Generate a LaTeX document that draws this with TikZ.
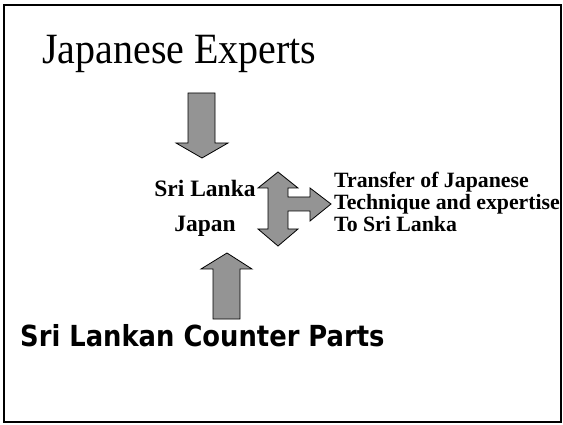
\documentclass[tikz,border=0pt]{standalone}
\usepackage{fontspec}
\setmainfont{Liberation Serif}
\newfontfamily\tahomalike[FakeStretch=0.89]{DejaVu Sans}
\usetikzlibrary{positioning}

\begin{document}
\begin{tikzpicture}[x=1pt,y=-1pt,
  blockarrow/.style={draw=black,line width=0.8pt,fill=black!42,line join=miter},
  place/.style={font=\bfseries\fontsize{23.5}{26}\selectfont,inner sep=0pt}]
  \useasboundingbox (0,0) rectangle (563,425);
  \draw[line width=1.2pt] (4,5) rectangle (561,422);
  \node[anchor=base west,inner sep=0pt,yscale=1.08,font=\fontsize{40}{44}\selectfont] (experts) at (42,64) {Japanese Experts};
  % experts coming down
  \filldraw[blockarrow] (188,93) -- (215,93) -- (215,143) -- (228,143) -- (202,158)
    -- (176,143) -- (188,143) -- cycle;
  \node[place] (srilanka) at (205,188) {Sri Lanka};
  \node[place] (japan) at (205,226) {Japan};
  % both ways, plus the branch to the right
  \filldraw[blockarrow] (278,172) -- (298,188) -- (288,188) -- (288,197) -- (310,197)
    -- (310,188) -- (331,204) -- (310,221) -- (310,211) -- (288,211) -- (288,229)
    -- (298,229) -- (278,246) -- (258,229) -- (268,229) -- (268,188) -- (258,188) -- cycle;
  \node[anchor=west,align=left,inner sep=0pt,font=\bfseries\fontsize{21.8}{22}\selectfont] (transfer) at (334,202)
    {Transfer of Japanese\\Technique and expertise\\To Sri Lanka};
  % counter parts going up
  \filldraw[blockarrow] (213,319) -- (213,269) -- (201,269) -- (227,253) -- (252,269)
    -- (240,269) -- (240,319) -- cycle;
  \node[anchor=base west,inner sep=0pt,font=\tahomalike\bfseries\fontsize{29}{32}\selectfont] (counterparts) at (20,346)
    {Sri Lankan Counter Parts};
\end{tikzpicture}
\end{document}
